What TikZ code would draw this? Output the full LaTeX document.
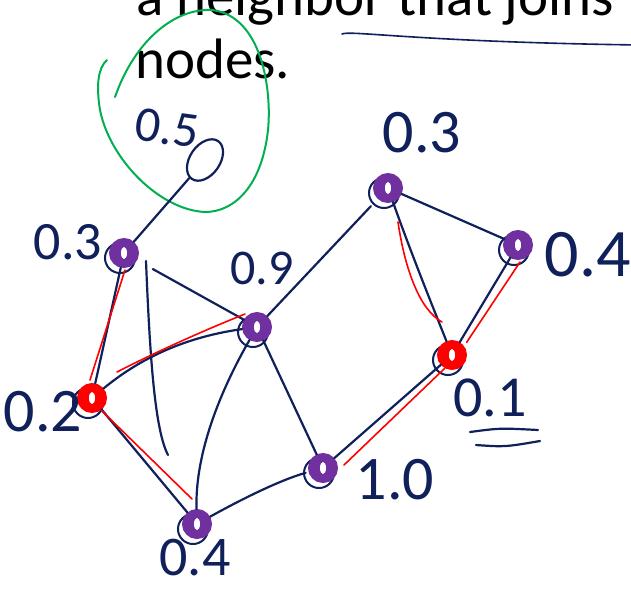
\documentclass[tikz,border=0pt]{standalone}
\usepackage{fontspec}
\setmainfont{Carlito}
\usetikzlibrary{shapes.geometric}
\definecolor{navy}{RGB}{16,32,90}
\definecolor{pur}{RGB}{112,48,160}
\definecolor{grn}{RGB}{0,176,80}
\begin{document}
\begin{tikzpicture}[x=1pt,y=-1pt,
  edge/.style={navy,line width=2.2pt,line cap=round},
  redge/.style={red,line width=1.6pt,line cap=round},
  ring/.style={navy,line width=2pt},
  pnode/.style={circle,draw=pur,fill=pur,line width=4pt,minimum size=26pt,inner sep=0pt,
    path picture={\fill[white] (path picture bounding box.center) ellipse (3pt and 6pt);}},
  rnode/.style={pnode,draw=red,fill=red},
  lab/.style={navy,inner sep=0pt,anchor=center}]
\useasboundingbox (0,0) rectangle (631,590);
\clip (0,0) rectangle (631,590);
\fill[white] (0,0) rectangle (631,590);
% title text
\node[anchor=base west,inner sep=0pt,font=\fontsize{57}{57}\selectfont] (t1) at (136,15) {a neighbor that joins};
\node[anchor=base west,inner sep=0pt,font=\fontsize{57}{57}\selectfont] (t2) at (135,78) {nodes.};
\coordinate (ul1) at (342,34);
\coordinate (ul2) at (640,45);
\draw[edge,line width=1.6pt] (ul1) .. controls (350,30) and (420,42) .. (ul2);
% coordinates
\coordinate (pA) at (124,253);
\coordinate (pB) at (257,327);
\coordinate (pC) at (92,398);
\coordinate (pD) at (197,524);
\coordinate (pE) at (323,468);
\coordinate (pF) at (388,188);
\coordinate (pG) at (518,245);
\coordinate (pH) at (452,355);
% navy rings under nodes
\foreach \p in {pA,pB,pC,pD,pE,pF,pG,pH}
  \draw[ring] ([shift={(-4,5)}]\p) circle (15);
% nodes
\node[pnode] (A) at (pA) {};
\node[pnode] (B) at (pB) {};
\node[rnode] (C) at (pC) {};
\node[pnode] (D) at (pD) {};
\node[pnode] (E) at (pE) {};
\node[pnode] (F) at (pF) {};
\node[pnode] (G) at (pG) {};
\node[rnode] (H) at (pH) {};
% the 0.5 node
\node[draw=navy,line width=2.2pt,ellipse,minimum width=30pt,minimum height=46pt,rotate=-35,inner sep=0pt] (O) at (205,160) {};
% green loop
\draw[grn,line width=2pt,line cap=round] (115,97) .. controls (135,40) and (175,8) .. (212,10)
  .. controls (262,16) and (272,90) .. (268,130)
  .. controls (262,185) and (235,212) .. (205,212)
  .. controls (160,210) and (110,160) .. (100,110)
  .. controls (96,85) and (98,68) .. (107,60);
% edges
\coordinate (aend) at (168,455);
\draw[edge] (O) -- (A);
\draw[edge] (A) -- (C);
\draw[edge,shorten <=18pt] (A) -- (B);
\draw[edge] ([shift={(22,8)}]pA) .. controls (150,360) and (155,430) .. (aend);
\draw[edge] (C) .. controls (150,350) and (200,335) .. (B);
\draw[edge] (C) -- (D);
\draw[edge] (B) .. controls (215,400) and (195,460) .. (D);
\draw[edge] (B) -- (E);
\draw[edge,shorten >=10pt] (B) -- (F);
\draw[edge,shorten >=3pt] (D) .. controls (240,500) and (280,480) .. (E);
\draw[edge] (F) -- (G);
\draw[edge] (F) .. controls (410,250) and (430,300) .. (H);
\draw[edge] (G) -- (H);
\draw[edge] (H) -- (E);
% red overlays
\draw[redge] ([shift={(1,2)}]A.south) -- ([shift={(-2,-3)}]C.north);
\draw[redge] (117,372) .. controls (160,350) and (205,330) .. (245,314);
\draw[redge] ([shift={(-1,2)}]C.south east) -- ([shift={(-5,-10)}]D.north);
\draw[redge] (398,222) .. controls (405,270) and (420,310) .. (442,322);
\draw[redge] ([shift={(2,2)}]G.south) -- ([shift={(4,-2)}]H.north east);
\draw[redge] ([shift={(3,3)}]H.south west) -- ([shift={(6,-3)}]E.east);
% labels
\node[lab,font=\fontsize{50}{50}\selectfont,rotate=-8] (l05) at (167,128) {0.5};
\node[lab,font=\fontsize{54}{54}\selectfont] (lA) at (68,242) {0.3};
\node[lab,font=\fontsize{50}{50}\selectfont] (lB) at (262,268) {0.9};
\node[lab,font=\fontsize{62}{62}\selectfont] (lC) at (43,412) {0.2};
\node[lab,font=\fontsize{56}{56}\selectfont] (lD) at (195,558) {0.4};
\node[lab,font=\fontsize{62}{62}\selectfont] (lE) at (395,480) {1.0};
\node[lab,font=\fontsize{62}{62}\selectfont] (lF) at (422,133) {0.3};
\node[lab,font=\fontsize{68}{68}\selectfont] (lG) at (588,255) {0.4};
\node[lab,font=\fontsize{58}{58}\selectfont] (lH) at (490,398) {0.1};
\coordinate (u1a) at (470,432);
\coordinate (u1b) at (538,430);
\coordinate (u2a) at (476,445);
\coordinate (u2b) at (540,441);
\draw[edge] (u1a) .. controls (500,428) .. (u1b);
\draw[edge] (u2a) .. controls (505,447) .. (u2b);
\end{tikzpicture}
\end{document}
